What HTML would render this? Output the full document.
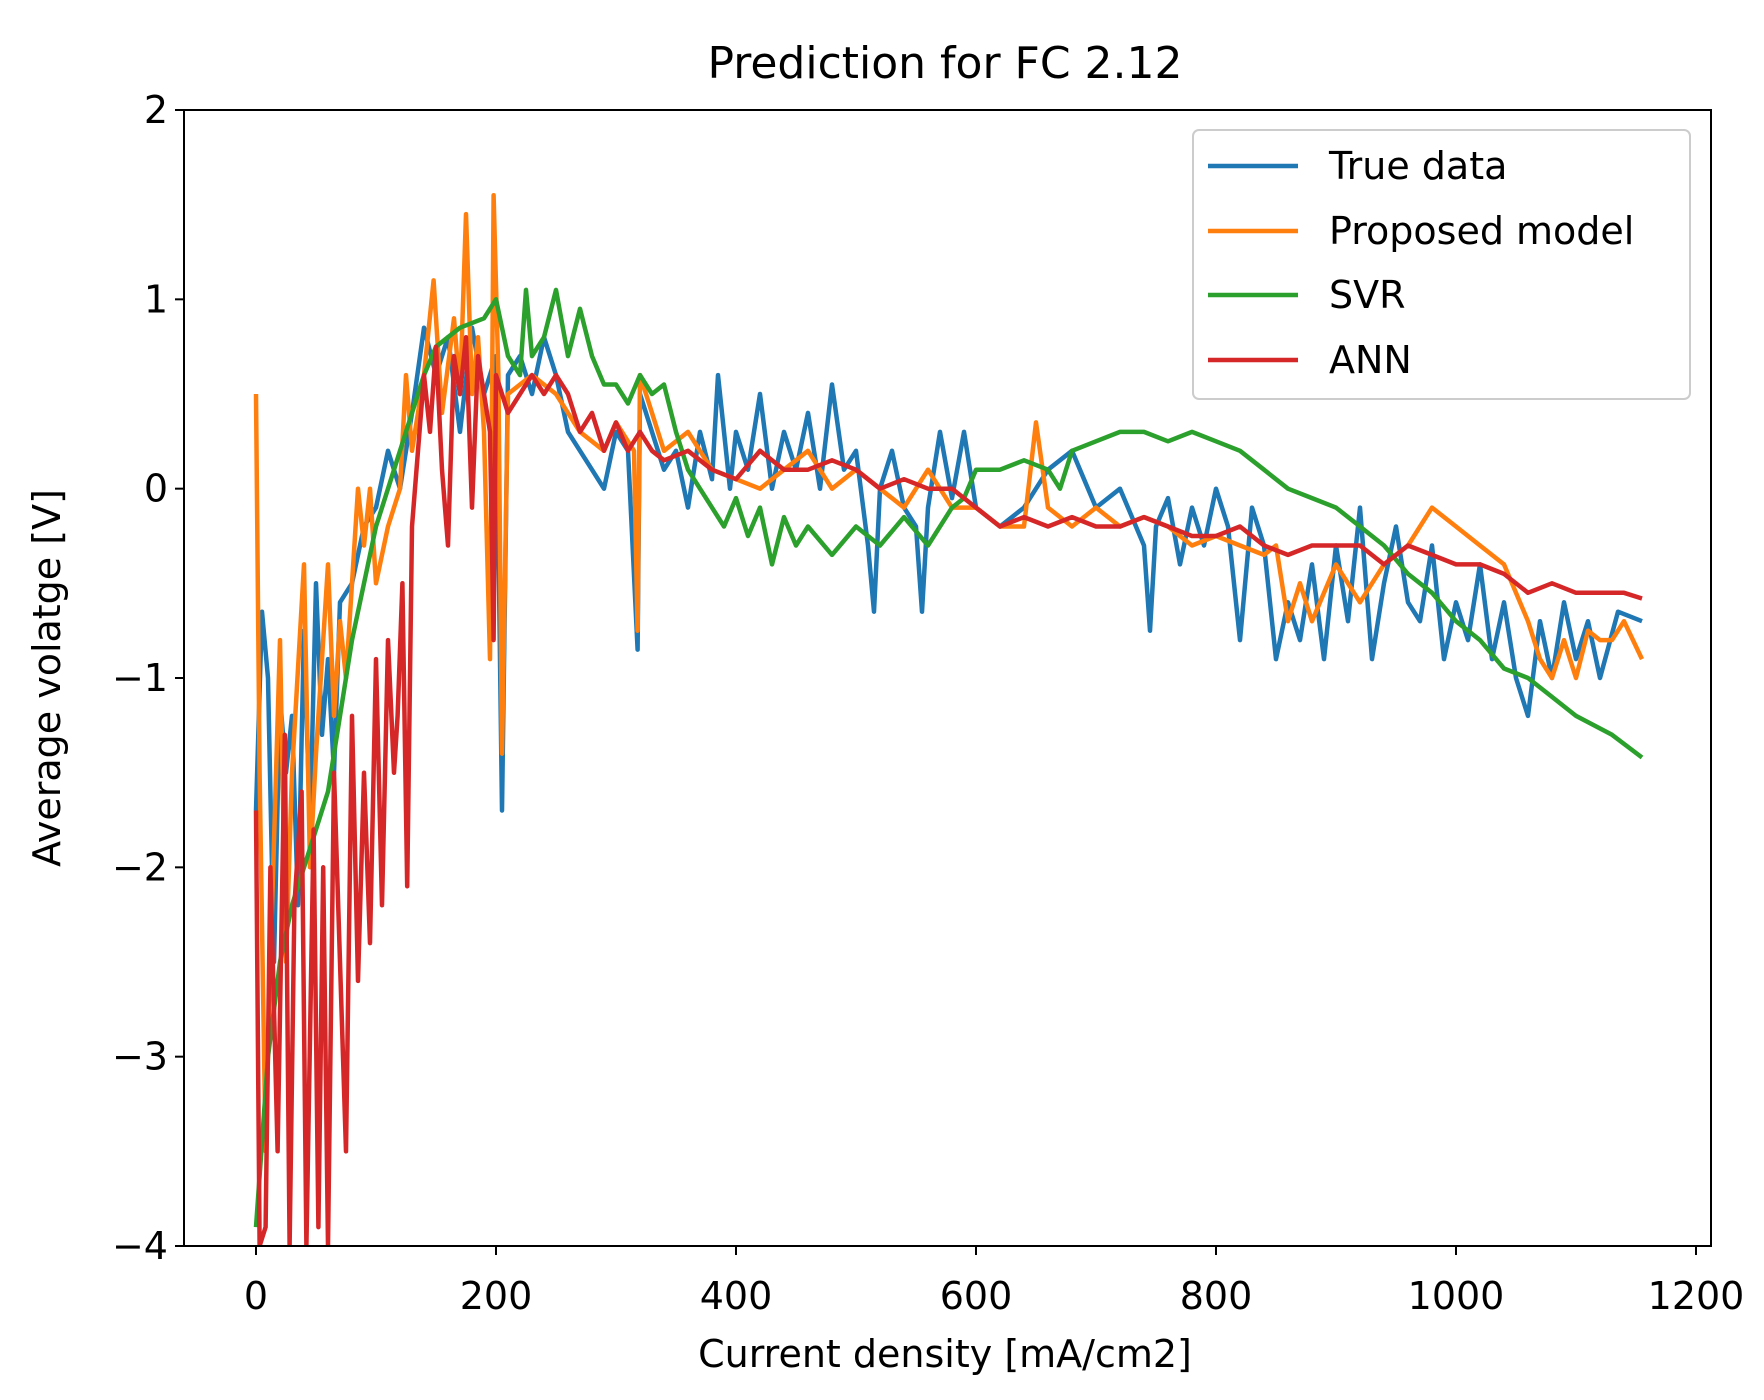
<!DOCTYPE html>
<html><head><meta charset="utf-8"><style>
body{margin:0;background:#fff}
svg text{font-family:"DejaVu Sans","Liberation Sans",sans-serif;fill:#000}
</style></head><body>
<svg id="chart" width="1764" height="1395">
<text x="945" y="78" font-size="44" text-anchor="middle">Prediction for FC 2.12</text>
<defs><clipPath id="clip"><rect x="184" y="110" width="1527" height="1136"/></clipPath></defs>
<g id="series" clip-path="url(#clip)"></g>
<rect x="184" y="110" width="1527" height="1136" fill="none" stroke="#000" stroke-width="2"/>
<g id="axes"></g>
<text x="945" y="1367" font-size="38" text-anchor="middle">Current density [mA/cm2]</text>
<text transform="translate(60,678) rotate(-90)" font-size="38" text-anchor="middle">Average volatge [V]</text>
<g>
<rect x="1193" y="130" width="497" height="269" rx="6" fill="#fff" fill-opacity="0.8" stroke="#ccc" stroke-width="2"/>
<g><line x1="1208" y1="166" x2="1298" y2="166" stroke="#1f77b4" stroke-width="4.5"/><text x="1329" y="179" font-size="38">True data</text></g>
<g><line x1="1208" y1="231" x2="1298" y2="231" stroke="#ff7f0e" stroke-width="4.5"/><text x="1329" y="244" font-size="38">Proposed model</text></g>
<g><line x1="1208" y1="295" x2="1298" y2="295" stroke="#2ca02c" stroke-width="4.5"/><text x="1329" y="308" font-size="38">SVR</text></g>
<g><line x1="1208" y1="360" x2="1298" y2="360" stroke="#d62728" stroke-width="4.5"/><text x="1329" y="373" font-size="38">ANN</text></g>
</g>
</svg>
<script>
const xTicks=[0,200,400,600,800,1000,1200];
const yTicks=[2,1,0,-1,-2,-3,-4];
const trueX=[0,5,10,15,20,25,30,35,40,45,50,55,60,65,70,80,90,100,110,120,130,140,150,160,170,180,190,200,205,210,220,230,240,250,260,270,280,290,300,310,318,320,330,340,350,360,370,380,385,395,400,410,420,430,440,450,460,470,480,490,500,510,515,520,530,540,550,555,560,570,580,590,600,620,640,660,680,700,720,740,745,750,760,770,780,790,800,810,820,830,840,850,860,870,880,890,900,910,920,930,940,950,960,970,980,990,1000,1010,1020,1030,1040,1050,1060,1070,1080,1090,1100,1110,1120,1135,1155];
const trueY=[-1.7,-0.65,-1.0,-2.5,-1.1,-1.5,-1.2,-2.2,-0.75,-1.8,-0.5,-1.3,-0.9,-1.5,-0.6,-0.5,-0.2,-0.1,0.2,0.0,0.4,0.85,0.6,0.8,0.3,0.85,0.5,0.7,-1.7,0.6,0.7,0.5,0.8,0.6,0.3,0.2,0.1,0.0,0.3,0.2,-0.85,0.5,0.3,0.1,0.2,-0.1,0.3,0.05,0.6,0.0,0.3,0.1,0.5,0.0,0.3,0.1,0.4,0.0,0.55,0.1,0.2,-0.3,-0.65,0.0,0.2,-0.1,-0.2,-0.65,-0.1,0.3,-0.05,0.3,-0.1,-0.2,-0.1,0.1,0.2,-0.1,0.0,-0.3,-0.75,-0.2,-0.05,-0.4,-0.1,-0.3,0.0,-0.2,-0.8,-0.1,-0.3,-0.9,-0.6,-0.8,-0.4,-0.9,-0.3,-0.7,-0.1,-0.9,-0.5,-0.2,-0.6,-0.7,-0.3,-0.9,-0.6,-0.8,-0.4,-0.9,-0.6,-1.0,-1.2,-0.7,-1.0,-0.6,-0.9,-0.7,-1.0,-0.65,-0.7];
const propX=[0,3,8,12,20,25,30,40,45,50,55,60,65,70,75,80,85,90,95,100,110,120,125,130,140,148,155,165,170,175,180,185,190,195,198,202,205,210,230,250,270,290,300,315,318,320,340,360,380,400,420,440,460,480,500,520,540,560,580,600,620,640,650,660,680,700,720,740,760,780,800,820,840,850,860,870,880,900,920,940,960,980,1000,1020,1040,1060,1070,1080,1090,1100,1110,1120,1130,1140,1155];
const propY=[0.5,-1.5,-3.5,-2.5,-0.8,-2.5,-1.5,-0.4,-2.0,-1.4,-0.9,-0.4,-1.2,-0.7,-1.0,-0.5,0.0,-0.3,0.0,-0.5,-0.2,0.0,0.6,0.2,0.6,1.1,0.4,0.9,0.5,1.45,0.5,0.8,0.3,-0.9,1.55,0.6,-1.4,0.5,0.6,0.5,0.3,0.2,0.35,0.2,-0.75,0.6,0.2,0.3,0.1,0.05,0.0,0.1,0.2,0.0,0.1,0.0,-0.1,0.1,-0.1,-0.1,-0.2,-0.2,0.35,-0.1,-0.2,-0.1,-0.2,-0.15,-0.2,-0.3,-0.25,-0.3,-0.35,-0.3,-0.7,-0.5,-0.7,-0.4,-0.6,-0.4,-0.3,-0.1,-0.2,-0.3,-0.4,-0.7,-0.9,-1.0,-0.8,-1.0,-0.75,-0.8,-0.8,-0.7,-0.9];
const svrX=[0,10,20,30,40,50,60,70,80,90,100,110,120,130,140,150,170,190,200,210,220,225,230,240,250,260,270,280,290,300,310,320,330,340,350,360,370,380,390,400,410,420,430,440,450,460,480,500,520,540,560,580,590,600,620,640,660,670,680,700,720,740,760,780,800,820,840,860,880,900,920,940,960,980,1000,1020,1040,1060,1080,1100,1130,1155];
const svrY=[-3.9,-3.0,-2.5,-2.2,-2.0,-1.8,-1.6,-1.2,-0.8,-0.5,-0.2,0.0,0.2,0.4,0.6,0.75,0.85,0.9,1.0,0.7,0.6,1.05,0.7,0.8,1.05,0.7,0.95,0.7,0.55,0.55,0.45,0.6,0.5,0.55,0.3,0.1,0.0,-0.1,-0.2,-0.05,-0.25,-0.1,-0.4,-0.15,-0.3,-0.2,-0.35,-0.2,-0.3,-0.15,-0.3,-0.1,-0.05,0.1,0.1,0.15,0.1,0.0,0.2,0.25,0.3,0.3,0.25,0.3,0.25,0.2,0.1,0.0,-0.05,-0.1,-0.2,-0.3,-0.45,-0.55,-0.7,-0.8,-0.95,-1.0,-1.1,-1.2,-1.3,-1.42];
const annX=[0,3,8,12,18,24,28,32,38,42,48,52,56,60,65,70,75,80,85,90,95,100,105,110,115,118,122,126,130,135,140,145,150,155,160,165,170,175,180,185,190,195,198,200,210,220,230,240,250,260,270,280,290,300,310,320,330,340,360,380,400,420,440,460,480,500,520,540,560,580,600,620,640,660,680,700,720,740,760,780,800,820,840,860,880,900,920,940,960,980,1000,1020,1040,1060,1080,1100,1120,1140,1155];
const annY=[-1.7,-4.0,-3.9,-2.0,-3.5,-1.3,-4.0,-2.2,-1.6,-4.0,-1.8,-3.9,-2.0,-4.0,-1.5,-2.5,-3.5,-1.2,-2.6,-1.5,-2.4,-0.9,-2.2,-0.8,-1.5,-1.2,-0.5,-2.1,-0.2,0.2,0.6,0.3,0.75,0.1,-0.3,0.7,0.5,0.8,-0.1,0.7,0.5,0.3,-0.8,0.6,0.4,0.5,0.6,0.5,0.6,0.5,0.3,0.4,0.2,0.35,0.2,0.3,0.2,0.15,0.2,0.1,0.05,0.2,0.1,0.1,0.15,0.1,0.0,0.05,0.0,0.0,-0.1,-0.2,-0.15,-0.2,-0.15,-0.2,-0.2,-0.15,-0.2,-0.25,-0.25,-0.2,-0.3,-0.35,-0.3,-0.3,-0.3,-0.4,-0.3,-0.35,-0.4,-0.4,-0.45,-0.55,-0.5,-0.55,-0.55,-0.55,-0.58];

const NS='http://www.w3.org/2000/svg';
const X0=184,X1=1711,Y0=110,Y1=1246;
function sx(v){return 256+(v-0)*(1696-256)/1200;}
function sy(v){return Y0+(2-v)*(Y1-Y0)/6;}
const sg=document.getElementById('series');
function drawLine(xs,ys,color,name){
  const p=document.createElementNS(NS,'polyline');
  p.setAttribute('points',xs.map((x,i)=>sx(x).toFixed(1)+','+sy(ys[i]).toFixed(1)).join(' '));
  p.setAttribute('fill','none');p.setAttribute('stroke',color);p.setAttribute('stroke-width','4.5');p.setAttribute('stroke-linejoin','round');
  
  
  sg.appendChild(p);
}
drawLine(trueX,trueY,'#1f77b4','true-data-line');
drawLine(propX,propY,'#ff7f0e','proposed-model-line');
drawLine(svrX,svrY,'#2ca02c','svr-line');
drawLine(annX,annY,'#d62728','ann-line');
const ag=document.getElementById('axes');
xTicks.forEach(t=>{
  const l=document.createElementNS(NS,'line');
  l.setAttribute('x1',sx(t));l.setAttribute('x2',sx(t));l.setAttribute('y1',Y1);l.setAttribute('y2',Y1+9);l.setAttribute('stroke','#000');l.setAttribute('stroke-width','2');
  
  
  ag.appendChild(l);
  const tx=document.createElementNS(NS,'text');
  tx.setAttribute('x',sx(t));tx.setAttribute('y',1309);tx.setAttribute('font-size','38');tx.setAttribute('text-anchor','middle');
  tx.textContent=t;
  
  
  ag.appendChild(tx);
});
yTicks.forEach(t=>{
  const l=document.createElementNS(NS,'line');
  l.setAttribute('x1',X0-9);l.setAttribute('x2',X0);l.setAttribute('y1',sy(t));l.setAttribute('y2',sy(t));l.setAttribute('stroke','#000');l.setAttribute('stroke-width','2');
  
  
  ag.appendChild(l);
  const tx=document.createElementNS(NS,'text');
  tx.setAttribute('x',X0-16);tx.setAttribute('y',sy(t)+13);tx.setAttribute('font-size','38');tx.setAttribute('text-anchor','end');
  tx.textContent=t<0?'\u2212'+(-t):String(t);
  
  
  ag.appendChild(tx);
});
</script>
</body></html>
